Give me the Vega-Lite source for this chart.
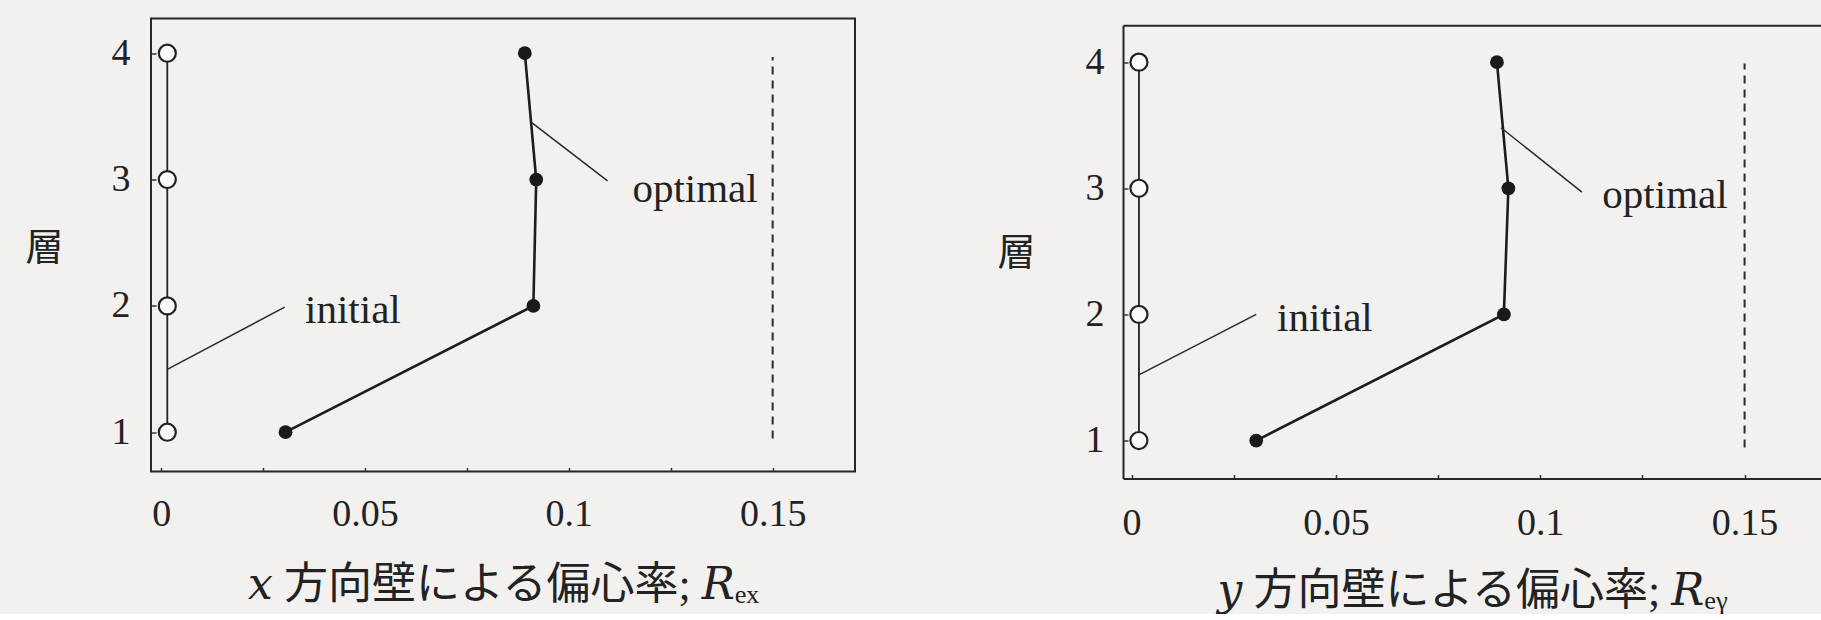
{
  "$schema": "https://vega.github.io/schema/vega-lite/v6.json",
  "background": "#f2f1f0",
  "padding": {"left": 23, "top": 17.5, "right": 0, "bottom": 0},
  "datasets": {
    "profile": [
      {"wall": "x", "case": "initial", "layer": 1, "R": 0.0015},
      {"wall": "x", "case": "initial", "layer": 2, "R": 0.0015},
      {"wall": "x", "case": "initial", "layer": 3, "R": 0.0015},
      {"wall": "x", "case": "initial", "layer": 4, "R": 0.0015},
      {"wall": "x", "case": "optimal", "layer": 1, "R": 0.0305},
      {"wall": "x", "case": "optimal", "layer": 2, "R": 0.0913},
      {"wall": "x", "case": "optimal", "layer": 3, "R": 0.092},
      {"wall": "x", "case": "optimal", "layer": 4, "R": 0.0892},
      {"wall": "y", "case": "initial", "layer": 1, "R": 0.0018},
      {"wall": "y", "case": "initial", "layer": 2, "R": 0.0018},
      {"wall": "y", "case": "initial", "layer": 3, "R": 0.0018},
      {"wall": "y", "case": "initial", "layer": 4, "R": 0.0018},
      {"wall": "y", "case": "optimal", "layer": 1, "R": 0.0305},
      {"wall": "y", "case": "optimal", "layer": 2, "R": 0.0911},
      {"wall": "y", "case": "optimal", "layer": 3, "R": 0.0922},
      {"wall": "y", "case": "optimal", "layer": 4, "R": 0.0894}
    ],
    "leaders": [
      {"wall": "x", "case": "initial", "R": 0.0016, "layer": 1.5, "R2": 0.0303, "layer2": 1.99},
      {"wall": "x", "case": "optimal", "R": 0.0905, "layer": 3.46, "R2": 0.1095, "layer2": 2.99},
      {"wall": "y", "case": "initial", "R": 0.0018, "layer": 1.52, "R2": 0.0305, "layer2": 2.0},
      {"wall": "y", "case": "optimal", "R": 0.0904, "layer": 3.48, "R2": 0.1102, "layer2": 2.97}
    ],
    "limits": [
      {"wall": "x", "R": 0.15, "layer": 0.95, "layer2": 3.97},
      {"wall": "y", "R": 0.15, "layer": 0.945, "layer2": 3.99}
    ],
    "labels": [
      {"wall": "x", "label": "initial", "R": 0.0353, "layer": 1.96},
      {"wall": "x", "label": "optimal", "R": 0.1156, "layer": 2.915},
      {"wall": "y", "label": "initial", "R": 0.0356, "layer": 1.965},
      {"wall": "y", "label": "optimal", "R": 0.1152, "layer": 2.94}
    ]
  },
  "spacing": 268,
  "bounds": "flush",
  "hconcat": [
    {
      "width": 704,
      "height": 453,
      "view": {"stroke": "#262626", "strokeWidth": 2, "fill": null},
      "resolve": {"axis": {"x": "independent", "y": "independent"}},
      "encoding": {
        "x": {"field": "R", "type": "quantitative", "scale": {"domain": [-0.0025, 0.1702], "nice": false, "zero": false}, "axis": null},
        "y": {"field": "layer", "type": "quantitative", "scale": {"domain": [0.689, 4.275], "nice": false, "zero": false}, "axis": null}
      },
      "layer": [
        {
          "data": {"name": "profile"},
          "transform": [{"filter": "datum.wall === 'x' && datum.case === 'initial'"}],
          "mark": {"type": "line", "stroke": "#222", "strokeWidth": 1.8},
          "encoding": {
            "x": {
              "field": "R", "type": "quantitative",
              "scale": {"domain": [-0.0025, 0.1702], "nice": false, "zero": false},
              "axis": {
                "orient": "bottom",
                "values": [0, 0.025, 0.05, 0.075, 0.1, 0.125, 0.15],
                "labelExpr": "round(datum.value * 1000) % 50 === 0 ? format(datum.value, '.2~f') : ''",
                "domain": false, "grid": false,
                "tickSize": -4, "tickColor": "#333", "tickWidth": 1.5,
                "labelFont": "Liberation Serif", "labelFontSize": 38, "labelColor": "#222",
                "labelPadding": 28, "labelFlush": false, "labelOverlap": false,
                "title": "𝑥 方向壁による偏心率; 𝑅ₑₓ",
                "titleFont": "Liberation Serif, DejaVu Serif, Noto Sans CJK JP", "titleFontSize": 44,
                "titleFontWeight": "normal", "titleColor": "#222",
                "titleBaseline": "middle", "titleY": 114
              }
            },
            "y": {
              "field": "layer", "type": "quantitative",
              "scale": {"domain": [0.689, 4.275], "nice": false, "zero": false},
              "axis": {
                "orient": "left",
                "values": [1, 2, 3, 4], "format": "d",
                "domain": false, "grid": false,
                "tickSize": -5, "tickColor": "#333", "tickWidth": 1.5,
                "labelFont": "Liberation Serif", "labelFontSize": 38, "labelColor": "#222",
                "labelPadding": 26,
                "title": "層", "titleFont": "Noto Sans CJK JP", "titleFontSize": 38,
                "titleFontWeight": "normal", "titleColor": "#222",
                "titleAngle": 0, "titleAlign": "center", "titleBaseline": "middle",
                "titleX": -107, "titleY": 230
              }
            },
            "order": {"field": "layer"}
          }
        },
        {
          "data": {"name": "profile"},
          "transform": [{"filter": "datum.wall === 'x' && datum.case === 'optimal'"}],
          "mark": {"type": "line", "stroke": "#1c1c1c", "strokeWidth": 2.6},
          "encoding": {"order": {"field": "layer"}}
        },
        {
          "data": {"name": "leaders"},
          "transform": [{"filter": "datum.wall === 'x'"}],
          "mark": {"type": "rule", "stroke": "#2a2a2a", "strokeWidth": 1.5},
          "encoding": {"x2": {"field": "R2"}, "y2": {"field": "layer2"}}
        },
        {
          "data": {"name": "limits"},
          "transform": [{"filter": "datum.wall === 'x'"}],
          "mark": {"type": "rule", "stroke": "#2a2a2a", "strokeWidth": 2, "strokeDash": [8, 6]},
          "encoding": {"y2": {"field": "layer2"}}
        },
        {
          "data": {"name": "profile"},
          "transform": [{"filter": "datum.wall === 'x' && datum.case === 'initial'"}],
          "mark": {"type": "point", "shape": "circle", "filled": true, "fill": "#fbfbfb", "stroke": "#222", "strokeWidth": 2.2, "size": 290, "opacity": 1},
          "encoding": {}
        },
        {
          "data": {"name": "profile"},
          "transform": [{"filter": "datum.wall === 'x' && datum.case === 'optimal'"}],
          "mark": {"type": "point", "shape": "circle", "filled": true, "fill": "#1a1a1a", "size": 190, "opacity": 1},
          "encoding": {}
        },
        {
          "data": {"name": "labels"},
          "transform": [{"filter": "datum.wall === 'x'"}],
          "mark": {"type": "text", "align": "left", "baseline": "middle", "font": "Liberation Serif", "fontSize": 41, "fill": "#222"},
          "encoding": {"text": {"field": "label"}}
        }
      ]
    },
    {
      "width": 698,
      "height": 460,
      "view": {"stroke": null, "fill": null},
      "resolve": {"axis": {"x": "independent", "y": "independent"}},
      "encoding": {
        "x": {"field": "R", "type": "quantitative", "scale": {"domain": [-0.0021, 0.1687], "nice": false, "zero": false}, "axis": null},
        "y": {"field": "layer", "type": "quantitative", "scale": {"domain": [0.699, 4.293], "range": [460, 6.7], "nice": false, "zero": false}, "axis": null}
      },
      "layer": [
        {
          "data": {"name": "profile"},
          "transform": [{"filter": "datum.wall === 'y' && datum.case === 'initial'"}],
          "mark": {"type": "line", "stroke": "#222", "strokeWidth": 1.8},
          "encoding": {
            "x": {
              "field": "R", "type": "quantitative",
              "scale": {"domain": [-0.0021, 0.1687], "nice": false, "zero": false},
              "axis": {
                "orient": "bottom",
                "values": [0, 0.025, 0.05, 0.075, 0.1, 0.125, 0.15],
                "labelExpr": "round(datum.value * 1000) % 50 === 0 ? format(datum.value, '.2~f') : ''",
                "domain": true, "domainColor": "#262626", "domainWidth": 2, "grid": false,
                "tickSize": -4, "tickColor": "#333", "tickWidth": 1.5,
                "labelFont": "Liberation Serif", "labelFontSize": 38, "labelColor": "#222",
                "labelPadding": 30, "labelFlush": false, "labelOverlap": false,
                "title": "𝑦 方向壁による偏心率; 𝑅ₑᵧ",
                "titleFont": "Liberation Serif, DejaVu Serif, Noto Sans CJK JP", "titleFontSize": 44,
                "titleFontWeight": "normal", "titleColor": "#222",
                "titleBaseline": "middle", "titleY": 113
              }
            },
            "y": {
              "field": "layer", "type": "quantitative",
              "scale": {"domain": [0.699, 4.293], "range": [460, 6.7], "nice": false, "zero": false},
              "axis": {
                "orient": "left",
                "values": [1, 2, 3, 4], "format": "d",
                "domain": true, "domainColor": "#262626", "domainWidth": 2, "grid": false,
                "tickSize": -5, "tickColor": "#333", "tickWidth": 1.5,
                "labelFont": "Liberation Serif", "labelFontSize": 38, "labelColor": "#222",
                "labelPadding": 24,
                "title": "層", "titleFont": "Noto Sans CJK JP", "titleFontSize": 38,
                "titleFontWeight": "normal", "titleColor": "#222",
                "titleAngle": 0, "titleAlign": "center", "titleBaseline": "middle",
                "titleX": -107, "titleY": 235
              }
            },
            "order": {"field": "layer"}
          }
        },
        {
          "data": {"name": "profile"},
          "transform": [{"filter": "datum.wall === 'y' && datum.case === 'optimal'"}],
          "mark": {"type": "line", "stroke": "#1c1c1c", "strokeWidth": 2.6},
          "encoding": {"order": {"field": "layer"}}
        },
        {
          "data": {"name": "leaders"},
          "transform": [{"filter": "datum.wall === 'y'"}],
          "mark": {"type": "rule", "stroke": "#2a2a2a", "strokeWidth": 1.5},
          "encoding": {"x2": {"field": "R2"}, "y2": {"field": "layer2"}}
        },
        {
          "data": {"name": "limits"},
          "transform": [{"filter": "datum.wall === 'y'"}],
          "mark": {"type": "rule", "stroke": "#2a2a2a", "strokeWidth": 2, "strokeDash": [8, 6]},
          "encoding": {
            "x": {
              "field": "R", "type": "quantitative",
              "scale": {"domain": [-0.0021, 0.1687], "nice": false, "zero": false},
              "axis": {
                "orient": "top", "offset": -6.7,
                "domain": true, "domainColor": "#262626", "domainWidth": 2,
                "ticks": false, "labels": false, "grid": false, "title": null
              }
            },
            "y2": {"field": "layer2"}
          }
        },
        {
          "data": {"name": "profile"},
          "transform": [{"filter": "datum.wall === 'y' && datum.case === 'initial'"}],
          "mark": {"type": "point", "shape": "circle", "filled": true, "fill": "#fbfbfb", "stroke": "#222", "strokeWidth": 2.2, "size": 290, "opacity": 1},
          "encoding": {}
        },
        {
          "data": {"name": "profile"},
          "transform": [{"filter": "datum.wall === 'y' && datum.case === 'optimal'"}],
          "mark": {"type": "point", "shape": "circle", "filled": true, "fill": "#1a1a1a", "size": 190, "opacity": 1},
          "encoding": {}
        },
        {
          "data": {"name": "labels"},
          "transform": [{"filter": "datum.wall === 'y'"}],
          "mark": {"type": "text", "align": "left", "baseline": "middle", "font": "Liberation Serif", "fontSize": 41, "fill": "#222"},
          "encoding": {"text": {"field": "label"}}
        }
      ]
    }
  ]
}
